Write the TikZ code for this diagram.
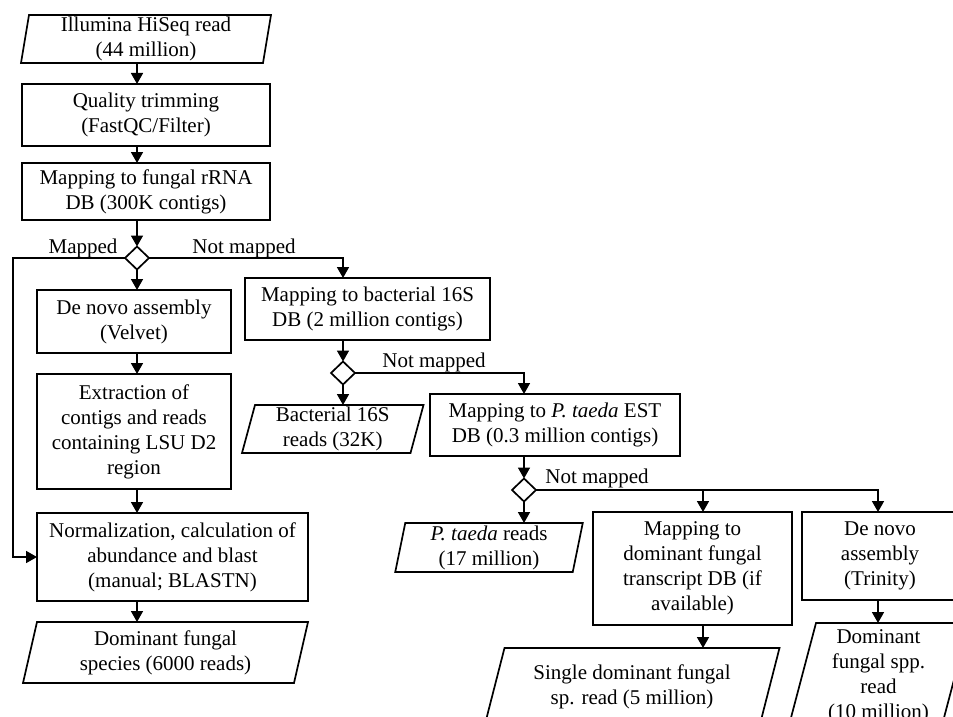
\documentclass[tikz,border=0pt]{standalone}
\usepackage{fontspec}
\setmainfont{Liberation Serif}
\usetikzlibrary{shapes.geometric,arrows.meta}
\newcommand\paraoutline[2]{\draw[ln] ([xshift=#2pt]#1.north west) -- ([xshift=#2pt]#1.north east) -- ([xshift=-#2pt]#1.south east) -- ([xshift=-#2pt]#1.south west) -- cycle;}
\begin{document}
\begin{tikzpicture}[x=1pt,y=-1pt,
  ln/.style={line width=1.7pt, line join=miter},
  txt/.style={font=\fontsize{21}{25}\selectfont, align=center, inner sep=0pt, outer sep=0pt},
  box/.style={txt, draw, ln},
  para/.style={txt},
  dia/.style={diamond, draw, ln, inner sep=0pt, outer sep=0pt, minimum width=24pt, minimum height=23pt},
  arr/.style={ln, -{Triangle[length=11pt,width=12pt]}},
  lbl/.style={font=\fontsize{21}{25}\selectfont, inner sep=0pt}]
\path[use as bounding box] (0,0) rectangle (953,717);
\clip (0,0) rectangle (953,717);
\fill[white] (0,0) rectangle (953,717);

\node[para, minimum width=242pt, minimum height=48pt] (p1) at (146,39) {Illumina HiSeq read\\(44 million)};
\paraoutline{p1}{4}
\node[box, minimum width=248pt, minimum height=62pt] (b2) at (146,115) {Quality trimming\\(FastQC/Filter)};
\node[box, minimum width=248pt, minimum height=57pt] (b3) at (146,191.5) {Mapping to fungal rRNA\\DB (300K contigs)};
\node[dia] (d1) at (137,258) {};
\node[box, minimum width=194pt, minimum height=63pt] (b4) at (134,321.5) {De novo assembly\\(Velvet)};
\node[box, minimum width=194pt, minimum height=115pt] (b5) at (134,431.5) {Extraction of\\contigs and reads\\containing LSU D2\\region};
\node[box, minimum width=271pt, minimum height=88pt] (b6) at (172.5,557) {Normalization, calculation of\\abundance and blast\\(manual; BLASTN)};
\node[para, minimum width=271pt, minimum height=61pt] (p3) at (165.5,652.5) {Dominant fungal\\species (6000 reads)};
\paraoutline{p3}{7}
\node[box, minimum width=245pt, minimum height=62pt] (b7) at (367.5,309) {Mapping to bacterial 16S\\DB (2 million contigs)};
\node[dia] (d2) at (343,373) {};
\node[para, minimum width=168.5pt, minimum height=48pt] (p2) at (332.75,429) {Bacterial 16S\\reads (32K)};
\paraoutline{p2}{6.5}
\node[box, minimum width=250pt, minimum height=62pt] (b8) at (555,425) {Mapping to \textit{P. taeda} EST\\DB (0.3 million contigs)};
\node[dia] (d3) at (524,490) {};
\node[para, minimum width=177.5pt, minimum height=49pt] (p4) at (489,547.5) {\textit{P. taeda} reads\\(17 million)};
\paraoutline{p4}{5}
\node[box, minimum width=199pt, minimum height=113pt] (b9) at (692.5,568.5) {Mapping to\\dominant fungal\\transcript DB (if\\available)};
\node[box, minimum width=156pt, minimum height=88pt] (b10) at (880,556) {De novo\\assembly\\(Trinity)};
\node[para, minimum width=275pt, minimum height=78pt] (p5) at (632,687) {Single dominant fungal\\sp. read (5 million)};
\paraoutline{p5}{10}
\node[para, minimum width=153pt, minimum height=106pt] (p6) at (878.5,676) {Dominant\\fungal spp.\\read\\(10 million)};
\paraoutline{p6}{14}

\node[lbl] (l1) at (83,248) {Mapped};
\node[lbl] (l2) at (244,248) {Not mapped};
\node[lbl] (l3) at (434,362) {Not mapped};
\node[lbl] (l4) at (597,478) {Not mapped};

\coordinate (cA) at (137,0);
\coordinate (cL) at (13,0);
\coordinate (j1) at (703,490);
\coordinate (j2) at (878,490);

\draw[arr] (cA |- p1.south) -- (cA |- b2.north);
\draw[arr] (cA |- b2.south) -- (cA |- b3.north);
\draw[arr] (d1 |- b3.south) -- (d1.north);
\draw[arr] (d1.south) -- (d1 |- b4.north);
\draw[arr] (cA |- b4.south) -- (cA |- b5.north);
\draw[arr] (cA |- b5.south) -- (cA |- b6.north);
\draw[arr] (cA |- b6.south) -- (cA |- p3.north);
\draw[arr] (d1.west) -- (cL |- d1.west) -- (cL |- b6.west) -- (b6.west);
\draw[arr] (d1.east) -| (d2 |- b7.north);
\draw[arr] (d2 |- b7.south) -- (d2.north);
\draw[arr] (d2.south) -- (d2 |- p2.north);
\draw[arr] (d2.east) -| (d3 |- b8.north);
\draw[arr] (d3 |- b8.south) -- (d3.north);
\draw[arr] (d3.south) -- (d3 |- p4.north);
\draw[arr] (d3.east) -- (j2) -- (j2 |- b10.north);
\draw[arr] (j1) -- (j1 |- b9.north);
\draw[arr] (j1 |- b9.south) -- (j1 |- p5.north);
\draw[arr] (j2 |- b10.south) -- (j2 |- p6.north);
\end{tikzpicture}
\end{document}
